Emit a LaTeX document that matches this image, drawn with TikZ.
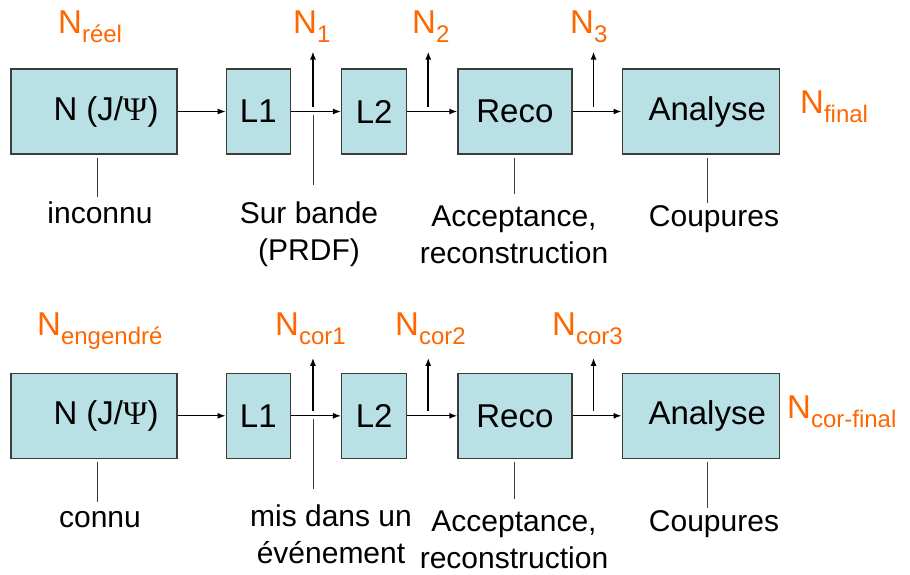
\documentclass[tikz,border=0pt]{standalone}
\usepackage{fontspec}
\setmainfont{Liberation Sans}
\newfontfamily\psifont{Liberation Serif}
\usetikzlibrary{arrows.meta,positioning}
\definecolor{boxfill}{RGB}{185,224,228}
\definecolor{boxline}{RGB}{60,60,60}
\definecolor{cntorange}{RGB}{255,102,0}
\newcommand{\cnt}[1]{N\raisebox{-9pt}{\fontsize{24}{24}\selectfont #1}}

\begin{document}
\begin{tikzpicture}[x=1pt, y=-1pt,
  box/.style={draw=boxline, fill=boxfill, line width=1.3pt, minimum height=85pt, inner sep=0pt, font=\fontsize{33}{36}\selectfont},
  arr/.style={-{Latex[length=8pt,width=6pt]}, line width=1.3pt},
  up/.style={arr, line width=1.8pt, shorten <=5pt},
  tick/.style={line width=0.9pt, boxline},
  lab/.style={font=\fontsize{30}{37}\selectfont, align=center, inner sep=0pt, anchor=base},
  lab1/.style={lab, text height=22pt},
  cnt/.style={text=cntorange, font=\fontsize{33}{36}\selectfont, inner sep=0pt, anchor=base west}
]
\useasboundingbox (0,0) rectangle (910,574);
% real chain
\node[box, minimum width=166pt] (nj) at (94,111.5) {\hspace*{24pt}N (J/{\psifont Ψ})};
\node[box, minimum width=64pt, right=48pt of nj] (l1) {L1};
\node[box, minimum width=65pt, right=50pt of l1] (l2) {L2};
\node[box, minimum width=114pt, right=50pt of l2] (reco) {Reco};
\node[box, minimum width=157pt, right=49pt of reco] (an) {\hspace*{13pt}Analyse};
\draw[arr] (nj) -- (l1);
\draw[arr] (l1) -- (l2);
\draw[arr] (l2) -- (reco);
\draw[arr] (reco) -- (an);
\coordinate (b1) at ([xshift=22pt]l1.east);
\coordinate (b2) at ([xshift=21pt]l2.east);
\coordinate (b3) at ([xshift=21pt]reco.east);
\coordinate (t1) at ([yshift=60pt]b1);
\coordinate (t2) at ([yshift=60pt]b2);
\coordinate (t3) at ([yshift=60pt]b3);
\draw[up] (b1) -- (t1);
\draw[up] (b2) -- (t2);
\draw[up] (b3) -- (t3);
\node[cnt] (nreel) at (58,33) {\cnt{réel}};
\node[cnt] (n1) at (293,33) {\cnt{1}};
\node[cnt] (n2) at (412,33) {\cnt{2}};
\node[cnt] (n3) at (570,33) {\cnt{3}};
\node[cnt] (nfin) at (800,113) {\cnt{final}};
\node[lab1] (inc) at (100,223) {inconnu};
\node[lab] (sb) at (309,260) {Sur bande\\(PRDF)};
\node[lab] (acc) at (514,263) {Acceptance,\\reconstruction};
\node[lab1] (cp) at (714,226) {Coupures};
\coordinate (njs) at ([xshift=3pt]nj.south);
\coordinate (ans) at ([xshift=7pt]an.south);
\draw[tick, shorten <=3pt, shorten >=4pt] (njs) -- (njs |- inc.north);
\draw[tick, shorten <=3pt, shorten >=16pt] (b1) -- (b1 |- sb.north);
\draw[tick, shorten <=3pt, shorten >=11pt] (reco.south) -- (reco.south |- acc.north);
\draw[tick, shorten <=3pt, shorten >=1pt] (ans) -- (ans |- cp.north);
% generated chain
\node[box, minimum width=166pt, below=218pt of nj] (nj2) {\hspace*{24pt}N (J/{\psifont Ψ})};
\node[box, minimum width=64pt, right=48pt of nj2] (l1b) {L1};
\node[box, minimum width=65pt, right=50pt of l1b] (l2b) {L2};
\node[box, minimum width=114pt, right=50pt of l2b] (recob) {Reco};
\node[box, minimum width=157pt, right=49pt of recob] (anb) {\hspace*{13pt}Analyse};
\draw[arr] (nj2) -- (l1b);
\draw[arr] (l1b) -- (l2b);
\draw[arr] (l2b) -- (recob);
\draw[arr] (recob) -- (anb);
\coordinate (c1) at ([xshift=22pt]l1b.east);
\coordinate (c2) at ([xshift=21pt]l2b.east);
\coordinate (c3) at ([xshift=21pt]recob.east);
\coordinate (u1) at ([yshift=58pt]c1);
\coordinate (u2) at ([yshift=58pt]c2);
\coordinate (u3) at ([yshift=58pt]c3);
\draw[up] (c1) -- (u1);
\draw[up] (c2) -- (u2);
\draw[up] (c3) -- (u3);
\node[cnt] (neng) at (37,335) {\cnt{engendré}};
\node[cnt] (nc1) at (275,335) {\cnt{cor1}};
\node[cnt] (nc2) at (395,335) {\cnt{cor2}};
\node[cnt] (nc3) at (552,335) {\cnt{cor3}};
\node[cnt] (ncfin) at (787,418) {\cnt{cor-final}};
\node[lab1] (con) at (100,527) {connu};
\node[lab] (mis) at (331,563) {mis dans un\\événement};
\node[lab] (acc2) at (514,568) {Acceptance,\\reconstruction};
\node[lab1] (cp2) at (714,531) {Coupures};
\coordinate (nj2s) at ([xshift=3pt]nj2.south);
\coordinate (anbs) at ([xshift=7pt]anb.south);
\draw[tick, shorten <=3pt, shorten >=3pt] (nj2s) -- (nj2s |- con.north);
\draw[tick, shorten <=3pt, shorten >=15pt] (c1) -- (c1 |- mis.north);
\draw[tick, shorten <=3pt, shorten >=11pt] (recob.south) -- (recob.south |- acc2.north);
\draw[tick, shorten <=3pt, shorten >=1pt] (anbs) -- (anbs |- cp2.north);
\end{tikzpicture}
\end{document}
